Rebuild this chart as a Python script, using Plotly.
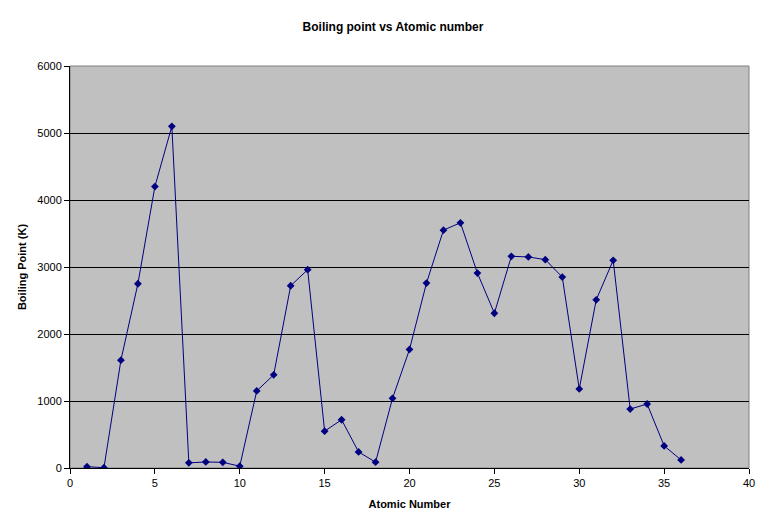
import plotly.graph_objects as go

atomic_number = list(range(1, 37))
boiling_point = [20, 4, 1610, 2750, 4200, 5100, 77, 90, 85, 27,
                 1150, 1390, 2720, 2960, 550, 720, 240, 87, 1040, 1770,
                 2760, 3550, 3660, 2910, 2310, 3160, 3150, 3110, 2850, 1180,
                 2510, 3100, 880, 955, 330, 120]

fig = go.Figure()
fig.add_trace(go.Scatter(
    x=atomic_number, y=boiling_point, mode="lines+markers",
    line=dict(color="#000080", width=1),
    marker=dict(symbol="diamond", size=6, color="#000080"),
    showlegend=False,
))

fig.update_layout(
    width=770, height=528,
    margin=dict(l=62, r=29, t=58, b=68),
    paper_bgcolor="white",
    plot_bgcolor="#C0C0C0",
    font=dict(family="Arial, Liberation Sans, sans-serif", size=11, color="black"),
    title=dict(text="<b>Boiling point vs Atomic number</b>", x=0.5, xanchor="center",
               y=0.965, yanchor="middle", font=dict(size=12)),
    xaxis=dict(range=[0, 40], tickvals=[0, 5, 10, 15, 20, 25, 30, 35, 40],
               showgrid=False, zeroline=False,
               showline=True, linecolor="black", linewidth=1,
               ticks="outside", ticklen=5, tickcolor="black",
               title=dict(text="<b>Atomic Number</b>", font=dict(size=11), standoff=12),
               mirror=False),
    yaxis=dict(range=[0, 6000], tickvals=[0, 1000, 2000, 3000, 4000, 5000, 6000],
               showgrid=True, gridcolor="black", gridwidth=1, zeroline=False,
               showline=True, linecolor="black", linewidth=1,
               ticks="outside", ticklen=5, tickcolor="black",
               title=dict(text="<b>Boiling Point (K)</b>", font=dict(size=11), standoff=8)),
)
fig.add_shape(type="rect", xref="paper", yref="paper", x0=0, y0=0, x1=1, y1=1,
              line=dict(color="#808080", width=1), layer="below")

fig.write_html("out.html")
